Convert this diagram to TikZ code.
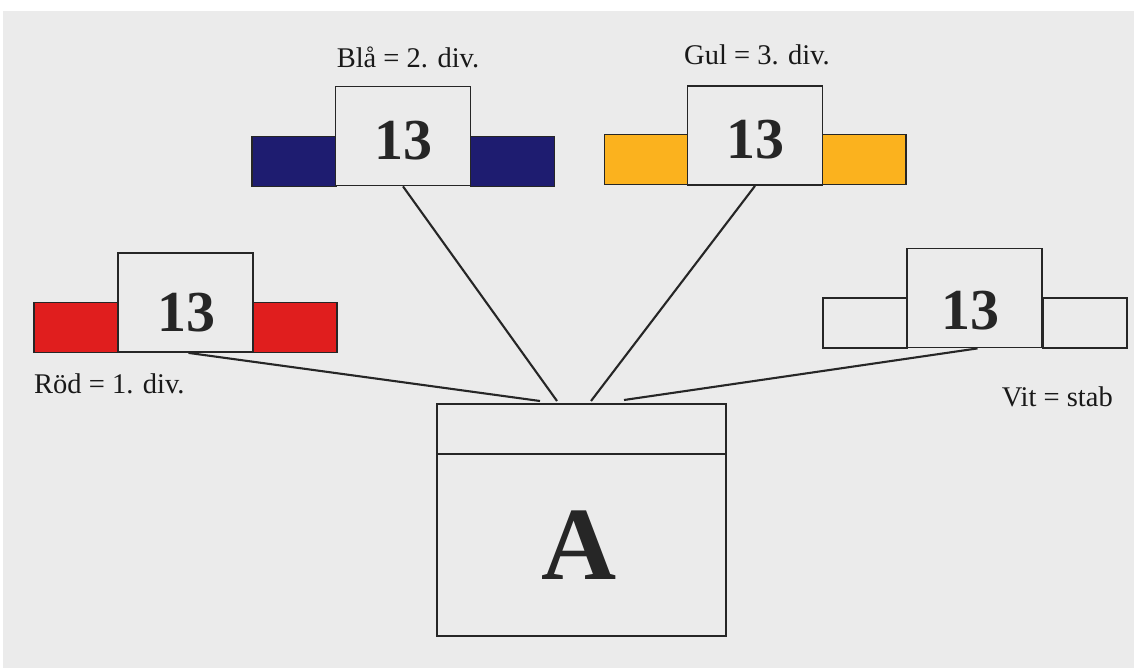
\documentclass[tikz,border=0pt]{standalone}
\usepackage{fontspec}
\setmainfont{Liberation Serif}
\definecolor{bg}{HTML}{EBEBEB}
\definecolor{redc}{HTML}{E01E1E}
\definecolor{bluec}{HTML}{1E1C70}
\definecolor{yelc}{HTML}{FBB21E}
\tikzset{
  numbox/.style={draw=black!85, line width=1.8pt, fill=bg, minimum width=135pt, minimum height=99pt, inner sep=0pt},
  numtext/.style={font=\fontsize{58}{58}\selectfont\bfseries, text=black!85, inner sep=0pt},
  barbox/.style={draw=black!85, line width=1.8pt, minimum width=84pt, minimum height=50pt, inner sep=0pt},
  lab/.style={font=\fontsize{28.5}{28.5}\selectfont, text=black!90, inner sep=0pt},
  conn/.style={line width=2.1pt, draw=black!85}
}
\begin{document}
\begin{tikzpicture}[x=1pt,y=-1pt]
\useasboundingbox (0,0) rectangle (1134,668);
\fill[white] (0,0) rectangle (1134,668);
\fill[bg] (3,11) rectangle (1134,668);
% red group
\node[barbox, fill=redc] (rl) at (76,327.5) {};
\node[barbox, fill=redc] (rr) at (295,327.5) {};
\node[numbox] (r) at (185.5,302.5) {};
\node[numtext] (rt) at (186,313) {13};
\node[lab, anchor=west] (rlab) at (34,384) {Röd = 1. div.};
% blue group
\node[barbox, fill=bluec] (bl) at (294,161.5) {};
\node[barbox, fill=bluec] (br) at (512.5,161.5) {};
\node[numbox] (b) at (403,136) {};
\node[numtext] (bt) at (403,141) {13};
\node[lab] (blab) at (408,57) {Blå = 2. div.};
% yellow group
\node[barbox, fill=yelc] (yl) at (646.5,159.5) {};
\node[barbox, fill=yelc] (yr) at (864,159.5) {};
\node[numbox] (y) at (755,135.5) {};
\node[numtext] (yt) at (755,140) {13};
\node[lab] (ylab) at (757,55) {Gul = 3. div.};
% white group
\node[barbox, fill=bg] (wl) at (865,323) {};
\node[barbox, fill=bg] (wr) at (1085,323) {};
\node[numbox] (w) at (974.5,298) {};
\node[numtext] (wt) at (970,310.5) {13};
\node[lab, anchor=east] (wlab) at (1113,397) {Vit = stab};
% main box
\node[draw=black!85, line width=1.8pt, fill=bg, minimum width=289pt, minimum height=232pt, inner sep=0pt] (a) at (581.5,520) {};
\draw[line width=1.8pt, draw=black!85] (a.west |- 0,454) -- (a.east |- 0,454);
\node[font=\fontsize{104}{104}\selectfont\bfseries, text=black!85, inner sep=0pt] (alet) at (579,545) {A};
% connector ends
\coordinate (er) at (540,401);
\coordinate (eb) at (557,401);
\coordinate (ey) at (591,401);
\coordinate (ew) at (624,400);
\draw[conn] (r.south) ++(3,0) -- (er);
\draw[conn] (b.south) -- (eb);
\draw[conn] (y.south) -- (ey);
\draw[conn] (w.south) ++(3,0) -- (ew);
\end{tikzpicture}
\end{document}
